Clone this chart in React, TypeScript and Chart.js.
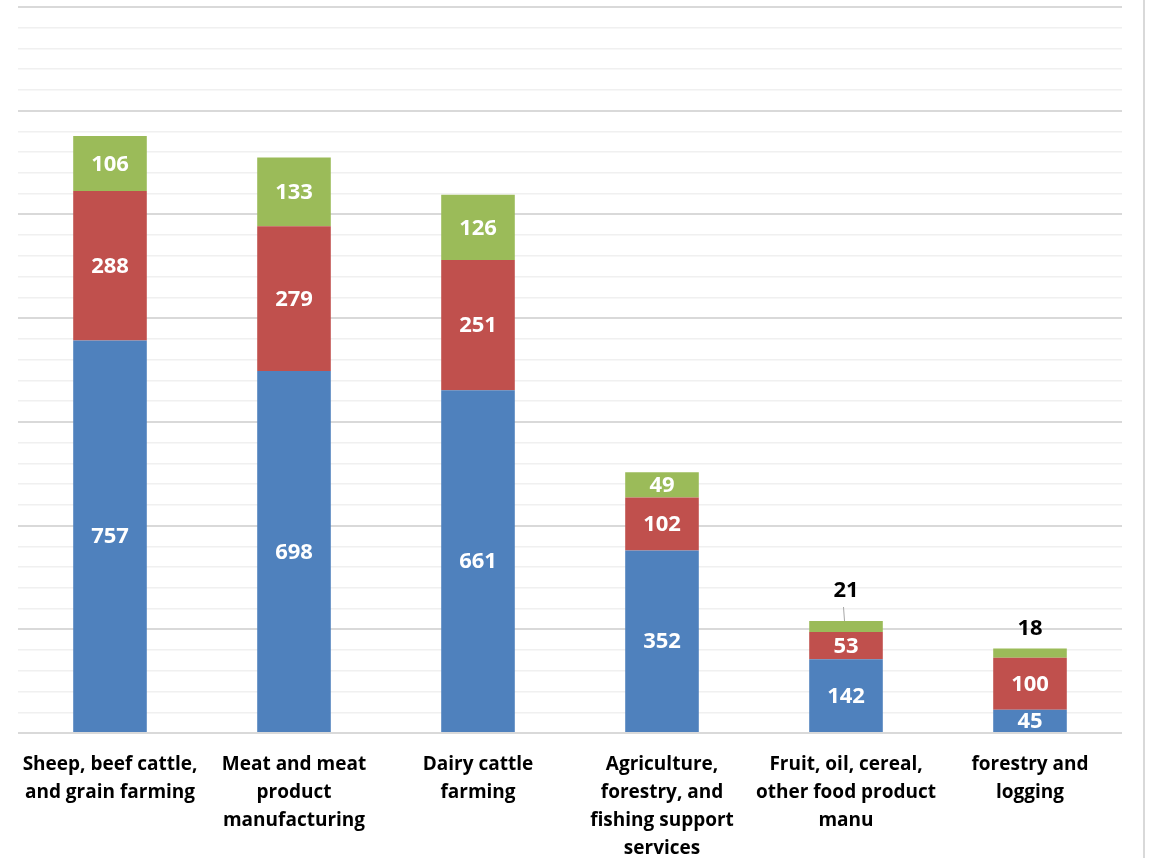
import React, { useEffect, useRef } from "react";
import { Chart, registerables } from "chart.js";

Chart.register(...registerables);

const categories: string[][] = [
  ["Sheep, beef cattle,", "and grain farming"],
  ["Meat and meat", "product", "manufacturing"],
  ["Dairy cattle", "farming"],
  ["Agriculture,", "forestry, and", "fishing support", "services"],
  ["Fruit, oil, cereal,", "other food product", "manu"],
  ["forestry and", "logging"],
];
const blueValues = [757, 698, 661, 352, 142, 45];
const redValues = [288, 279, 251, 102, 53, 100];
const greenValues = [106, 133, 126, 49, 21, 18];

const yMax = 1400;
const yStep = 40;
const majorStep = 200;

const LABEL_FONT = 'bold 22px "Open Sans", Lato, sans-serif';

const labelPlugin = {
  id: "stackLabels",
  afterDatasetsDraw(chart: any) {
    const ctx = chart.ctx;
    ctx.save();
    ctx.font = LABEL_FONT;
    ctx.textAlign = "center";
    ctx.textBaseline = "middle";
    const last = chart.data.datasets.length - 1;
    chart.data.datasets.forEach((ds: any, i: number) => {
      const meta = chart.getDatasetMeta(i);
      meta.data.forEach((bar: any, j: number) => {
        const v = ds.data[j];
        const { x, y, base } = bar.getProps(["x", "y", "base"], true);
        const h = base - y;
        if (i !== last || h >= 24) {
          ctx.fillStyle = "#ffffff";
          ctx.fillText(String(v), x, (y + base) / 2 + 1);
        } else {
          const lift = j === 4 ? 30 : 20;
          const ly = y - lift;
          ctx.fillStyle = "#000000";
          ctx.fillText(String(v), x, ly);
          if (lift > 24) {
            ctx.strokeStyle = "#a6a6a6";
            ctx.lineWidth = 1;
            ctx.beginPath();
            ctx.moveTo(x - 2.5, ly + 16);
            ctx.lineTo(x - 1.5, y);
            ctx.stroke();
          }
        }
      });
    });
    ctx.restore();
  },
};

export default function App() {
  const ref = useRef<HTMLCanvasElement | null>(null);

  useEffect(() => {
    document.body.style.margin = "0";
    const canvas = ref.current!;
    const chart = new Chart(canvas, {
      type: "bar",
      data: {
        labels: categories,
        datasets: [
          { label: "A", data: blueValues, backgroundColor: "#4F81BD" },
          { label: "B", data: redValues, backgroundColor: "#C0504D" },
          { label: "C", data: greenValues, backgroundColor: "#9BBB59" },
        ],
      },
      options: {
        animation: false,
        responsive: false,
        maintainAspectRatio: false,
        layout: { padding: { left: 18, right: 28, top: 7, bottom: 0 } },
        datasets: { bar: { barPercentage: 0.4, categoryPercentage: 1 } },
        plugins: { legend: { display: false }, tooltip: { enabled: false } },
        scales: {
          x: {
            stacked: true,
            grid: { display: false },
            border: { display: false },
            ticks: {
              autoSkip: false,
              maxRotation: 0,
              minRotation: 0,
              padding: 10,
              color: "#000000",
              font: { family: '"Open Sans", Lato, sans-serif', size: 19, weight: "bold", lineHeight: 28 / 19 },
            },
          },
          y: {
            stacked: true,
            min: 0,
            max: yMax,
            border: { display: false },
            ticks: { display: false, stepSize: yStep },
            grid: {
              drawTicks: false,
              color: (c: any) => (c.tick && c.tick.value % majorStep === 0 ? "#d9d9d9" : "#f0f0f0"),
              lineWidth: (c: any) => (c.tick && c.tick.value % majorStep === 0 ? 2 : 1.5),
            },
          },
        },
      },
      plugins: [labelPlugin],
    });
    return () => chart.destroy();
  }, []);

  return (
    <div style={{ position: "relative", width: 1150, height: 858, overflow: "hidden", background: "#fff" }}>
      <canvas ref={ref} width={1150} height={873} style={{ display: "block" }} />
      <div style={{ position: "absolute", left: 1143, top: 0, width: 2, height: 858, background: "#d9d9d9" }} />
    </div>
  );
}
